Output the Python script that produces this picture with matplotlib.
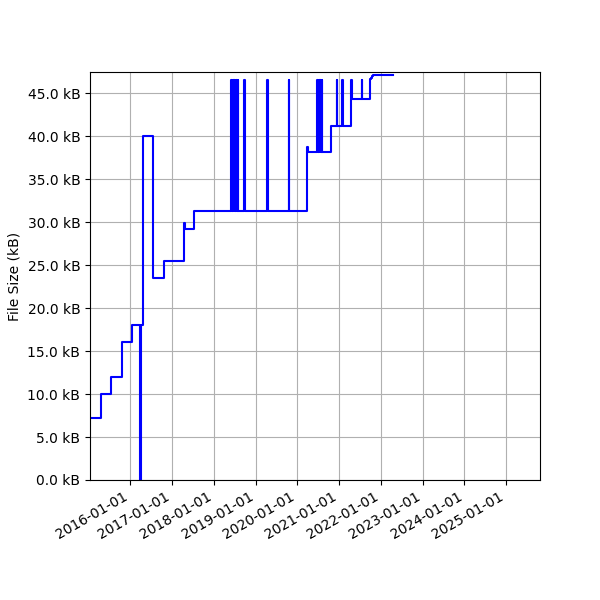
import matplotlib
matplotlib.use("Agg")
import matplotlib.pyplot as plt
import matplotlib.dates as mdates
from matplotlib.ticker import FuncFormatter, MultipleLocator
import pandas as pd

dates = [
    "2015-01-15", "2015-04-20", "2015-07-18", "2015-10-19", "2016-01-15",
    "2016-03-28", "2016-04-04", "2016-04-20", "2016-07-20", "2016-10-19",
    "2017-04-16", "2017-04-26", "2017-07-16",
    "2018-06-03", "2018-06-10", "2018-06-17", "2018-06-24", "2018-07-01",
    "2018-07-08", "2018-07-15", "2018-07-22", "2018-07-28", "2018-08-01",
    "2018-09-24", "2018-09-30",
    "2019-04-12", "2019-04-18",
    "2019-10-19", "2019-10-25",
    "2020-03-26", "2020-04-08",
    "2020-06-24", "2020-07-01", "2020-07-08", "2020-07-15", "2020-07-22",
    "2020-07-29", "2020-08-04", "2020-08-08",
    "2020-10-19",
    "2020-12-11", "2020-12-17",
    "2021-01-26", "2021-02-01",
    "2021-04-16", "2021-04-22",
    "2021-07-16", "2021-07-22",
    "2021-09-24", "2021-10-02", "2021-10-09", "2021-10-16", "2021-10-24",
    "2022-04-20",
]
sizes_kb = [
    7.2, 10.0, 12.0, 16.1, 18.0,
    0.0, 18.0, 40.0, 23.5, 25.5,
    29.9, 29.2, 31.3,
    46.5, 31.3, 46.5, 31.3, 46.5,
    31.3, 46.5, 31.3, 46.5, 31.3,
    46.5, 31.3,
    46.5, 31.3,
    46.5, 31.3,
    38.7, 38.2,
    46.5, 38.2, 46.5, 38.2, 46.5,
    38.2, 46.5, 38.2,
    41.2,
    46.5, 41.2,
    46.5, 41.2,
    46.5, 44.3,
    46.5, 44.3,
    46.4, 46.6, 46.8, 47.0, 47.15,
    47.15,
]
year_ticks = [f"{y}-01-01" for y in range(2016, 2026)]
x_range = ["2015-01-15", "2025-10-23"]
y_range = [0, 47.45]

x = pd.to_datetime(dates)

fig = plt.figure(figsize=(6, 6), dpi=100)
ax = fig.add_subplot(111)
ax.plot(x, sizes_kb, drawstyle="steps-post", color="blue", linewidth=1.5)

ax.set_xlim(pd.to_datetime(x_range[0]), pd.to_datetime(x_range[1]))
ax.set_ylim(*y_range)
ax.set_xticks(pd.to_datetime(year_ticks))
ax.xaxis.set_major_formatter(mdates.DateFormatter("%Y-%m-%d"))
ax.yaxis.set_major_locator(MultipleLocator(5))
ax.yaxis.set_major_formatter(FuncFormatter(lambda v, p: f"{v:.1f} kB"))
ax.set_ylabel("File Size (kB)")
ax.grid(True)
fig.autofmt_xdate()
fig.subplots_adjust(left=0.15, right=0.9, top=0.88, bottom=0.2)
fig.savefig("out.png", dpi=100)
